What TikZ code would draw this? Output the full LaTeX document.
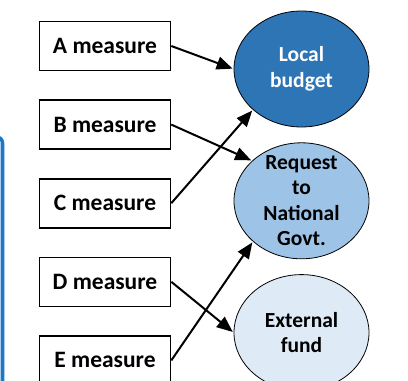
\documentclass[tikz,border=0pt]{standalone}
\usepackage{fontspec}
\setmainfont{Carlito}
\usetikzlibrary{positioning, arrows.meta, shapes.geometric}

\definecolor{frameblue}{HTML}{1A78C8}
\definecolor{localblue}{HTML}{2E75B6}
\definecolor{requestblue}{HTML}{9DC3E6}
\definecolor{externalblue}{HTML}{DEEBF7}

\begin{document}
\begin{tikzpicture}[x=1pt, y=-1pt, >={Triangle[length=16pt,width=13pt]}, shorten >=1pt, line width=2pt,
    measure/.style={draw, line width=1.6pt, minimum width=131pt, minimum height=49pt, inner sep=0pt,
        font=\fontsize{23.5}{27}\selectfont\bfseries},
    fund/.style={ellipse, draw, line width=0.8pt, minimum width=135pt, minimum height=116pt, inner sep=0pt,
        align=center, font=\fontsize{21.5}{25.5}\selectfont\bfseries}]
    \useasboundingbox (0,0) rectangle (408,381);
    \draw[frameblue, line width=3.5pt, rounded corners=6pt] (-20,137) -- (2.5,137) -- (2.5,400);

    \node[measure] (ma) at (105,46) {A measure};
    \node[measure] (mb) [below=28pt of ma] {B measure};
    \node[measure] (mc) [below=28pt of mb] {C measure};
    \node[measure] (md) [below=28pt of mc] {D measure};
    \node[measure] (me) [below=28pt of md] {E measure};

    \node[fund, fill=localblue, text=white] (lb) at (301.5,69) {Local\\budget};
    \node[fund, fill=requestblue, inner ysep=-6pt] (rq) [below=15pt of lb] {Request\\to\\National\\Govt.};
    \node[fund, fill=externalblue] (ef) [below=15pt of rq] {External\\fund};

    \path[->]
    (ma.east) edge (lb.west)
    (mb.east) edge (rq.141)
    (mc.east) edge (lb.220)
    (md.east) edge (ef.west)
    (me.east) edge (rq.220);
\end{tikzpicture}
\end{document}
